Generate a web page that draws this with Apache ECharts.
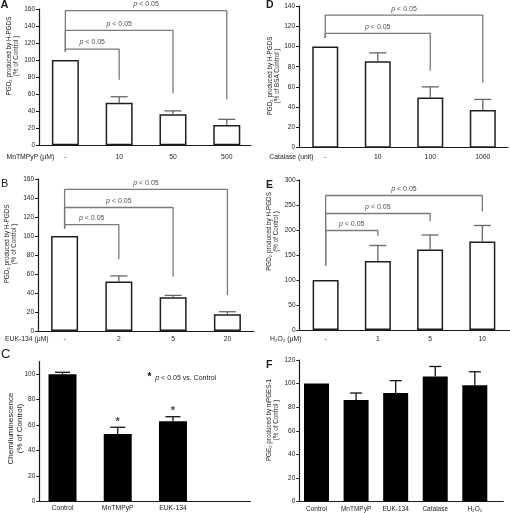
<!DOCTYPE html>
<html><head><meta charset="utf-8">
<script src="https://cdn.jsdelivr.net/npm/echarts@6/dist/echarts.min.js"></script>
<style>html,body{margin:0;padding:0;background:#fff}#c{width:510px;height:513px}</style>
</head><body><div id="c"></div>
<script>
// ---------- data ----------
const catsA = ['-', '10', '50', '500'];
const valsA = [100, 50, 36.4, 23.8];
const errsA = [0, 7, 4, 6.7];
const yTicksA = [0, 20, 40, 60, 80, 100, 120, 140, 160];
const brTargetsA = [1, 2, 3];
const brHeightsA = [113, 135, 158];
const brLegsA = [77, 61, 54];
const brBaseA = 110;

const catsB = ['-', '2', '5', '20'];
const valsB = [100, 52, 35.5, 17.6];
const errsB = [0, 6, 2, 2.7];
const yTicksB = [0, 20, 40, 60, 80, 100, 120, 140, 160];
const brTargetsB = [1, 2, 3];
const brHeightsB = [112, 130, 149];
const brLegsB = [75.5, 57, 38];
const brBaseB = 108;

const catsC = ['Control', 'MnTMPyP', 'EUK-134'];
const valsC = [100, 53, 63];
const errsC = [1.6, 5.3, 3.6];
const yTicksC = [0, 20, 40, 60, 80, 100];
const starsC = [1, 2];

const catsD = ['-', '10', '100', '1000'];
const valsD = [100, 85.5, 49.7, 37.2];
const errsD = [0, 8.2, 10.4, 10.5];
const yTicksD = [0, 20, 40, 60, 80, 100, 120, 140];
const brTargetsD = [2, 3];
const brHeightsD = [113, 131];
const brLegsD = [76, 64.5];
const brBaseD = 108.5;

const catsE = ['-', '1', '5', '10'];
const valsE = [100, 138, 161, 177];
const errsE = [0, 31, 29, 32];
const yTicksE = [0, 50, 100, 150, 200, 250, 300];
const brTargetsE = [1, 2, 3];
const brHeightsE = [199, 233, 269];
const brLegsE = [188, 217, 237];
const brBaseE = 129;

const catsF = ['Control', 'MnTMPyP', 'EUK-134', 'Catalase', 'H₂O₂'];
const valsF = [100, 86, 92, 106, 98.5];
const errsF = [0, 6, 10.5, 8.5, 11.5];
const yTicksF = [0, 20, 40, 60, 80, 100, 120];

// ---------- build ----------
const FONT = 'Arial, "Liberation Sans", Helvetica, sans-serif';
const AX = '#1a1a1a';
const grids = [], xAxes = [], yAxes = [], series = [];

function addPanel(p) {
  const i = grids.length;
  grids.push({left: p.left, top: p.top, width: p.width, height: p.height});
  xAxes.push({
    type: 'value', gridIndex: i, min: p.xMin, max: p.xMax,
    axisLine: {show: true, onZero: false, lineStyle: {color: AX, width: 1.2}},
    axisTick: {show: false}, splitLine: {show: false},
    axisLabel: {customValues: p.cats.map((c, k) => k), formatter: v => p.cats[Math.round(v)],
      fontSize: p.catFont, color: '#222', margin: p.catMargin, fontFamily: FONT}
  });
  const yMax = p.yMax !== undefined ? p.yMax : p.yTicks[p.yTicks.length - 1];
  yAxes.push({
    type: 'value', gridIndex: i, min: 0, max: yMax,
    axisLine: {show: true, onZero: false, lineStyle: {color: AX, width: 1.2}},
    axisTick: {show: true, length: 3, customValues: p.yTicks, lineStyle: {color: AX, width: 1}},
    axisLabel: {customValues: p.yTicks, fontSize: 6.5, color: '#222', margin: 4, fontFamily: FONT},
    splitLine: {show: false}
  });
  const dark = p.fill === '#000';
  series.push({
    type: 'bar', xAxisIndex: i, yAxisIndex: i, barWidth: p.barWidth, silent: true,
    data: p.vals.map((v, k) => [k, v]),
    itemStyle: {color: p.fill, borderColor: '#1e1e1e', borderWidth: dark ? 0 : 1.5}
  });
  series.push({
    type: 'custom', xAxisIndex: i, yAxisIndex: i, z: 3, silent: true,
    data: p.vals.map((v, k) => [k, v, p.errs[k]]),
    renderItem: (params, api) => {
      const e = api.value(2);
      if (!e) return;
      const x = api.value(0), v = api.value(1);
      const a = api.coord([x, v]), b = api.coord([x, v + e]);
      const hw = p.capW / 2;
      const st = {stroke: dark ? '#111' : '#666', lineWidth: 1.3};
      return {type: 'group', children: [
        {type: 'line', shape: {x1: a[0], y1: a[1], x2: b[0], y2: b[1]}, style: st},
        {type: 'line', shape: {x1: b[0] - hw, y1: b[1], x2: b[0] + hw, y2: b[1]}, style: st}
      ]};
    }
  });
  if (p.brTargets) {
    p.brTargets.forEach((j, n) => {
      const h = p.brHeights[n];
      series.push({
        type: 'line', xAxisIndex: i, yAxisIndex: i, symbol: 'none', silent: true, z: 4,
        data: [[0, p.brBase], [0, h], [j, h], [j, p.brLegs[n]]],
        lineStyle: {color: '#7a7a7a', width: 1.3}
      });
      series.push({
        type: 'scatter', xAxisIndex: i, yAxisIndex: i, symbolSize: 0, silent: true, z: 5,
        data: [[j / 2, h]],
        label: {show: true, position: 'top', distance: 3, formatter: '{i|p} < 0.05',
          fontSize: 7, color: '#222', fontFamily: FONT,
          rich: {i: {fontStyle: 'italic', fontSize: 7, color: '#222', fontFamily: FONT}}}
      });
    });
  }
  if (p.stars) {
    series.push({
      type: 'scatter', xAxisIndex: i, yAxisIndex: i, symbolSize: 0, silent: true, z: 5,
      data: p.stars.map(k => [k, p.vals[k] + p.errs[k]]),
      label: {show: true, position: 'top', distance: 0, formatter: '*', fontSize: 11,
        fontWeight: 'bold', color: '#111', fontFamily: FONT}
    });
  }
}

addPanel({left: 39, top: 9, width: 212, height: 136.3, xMin: -0.49, xMax: 3.45,
  cats: catsA, vals: valsA, errs: errsA, yTicks: yTicksA, fill: '#fff', barWidth: 27, capW: 17,
  catFont: 6.8, catMargin: 8.5,
  brTargets: brTargetsA, brHeights: brHeightsA, brLegs: brLegsA, brBase: brBaseA});
addPanel({left: 38, top: 179, width: 216, height: 152, xMin: -0.49, xMax: 3.49,
  cats: catsB, vals: valsB, errs: errsB, yTicks: yTicksB, fill: '#fff', barWidth: 27, capW: 17,
  catFont: 6.8, catMargin: 4.5,
  brTargets: brTargetsB, brHeights: brHeightsB, brLegs: brLegsB, brBase: brBaseB});
addPanel({left: 39.3, top: 361.6, width: 211, height: 139.7, xMin: -0.42, xMax: 3.40, yMax: 110,
  cats: catsC, vals: valsC, errs: errsC, yTicks: yTicksC, fill: '#000', barWidth: 28, capW: 15,
  catFont: 6.8, catMargin: 3.3, stars: starsC});
addPanel({left: 299, top: 6, width: 209, height: 141.7, xMin: -0.50, xMax: 3.48,
  cats: catsD, vals: valsD, errs: errsD, yTicks: yTicksD, fill: '#fff', barWidth: 26, capW: 17,
  catFont: 6.8, catMargin: 6,
  brTargets: brTargetsD, brHeights: brHeightsD, brLegs: brLegsD, brBase: brBaseD});
addPanel({left: 299.5, top: 180, width: 210, height: 150, xMin: -0.50, xMax: 3.52,
  cats: catsE, vals: valsE, errs: errsE, yTicks: yTicksE, fill: '#fff', barWidth: 26, capW: 17,
  catFont: 6.8, catMargin: 5.5,
  brTargets: brTargetsE, brHeights: brHeightsE, brLegs: brLegsE, brBase: brBaseE});
addPanel({left: 299.3, top: 360, width: 204, height: 142.3, xMin: -0.435, xMax: 4.72,
  cats: catsF, vals: valsF, errs: errsF, yTicks: yTicksF, fill: '#000', barWidth: 25, capW: 12,
  catFont: 6.5, catMargin: 4.5});

function txt(x, y, text, o) {
  o = o || {};
  return {type: 'text', x: x, y: y, rotation: o.rot || 0, silent: true,
    style: Object.assign({text: text, fill: '#1a1a1a', fontFamily: FONT, fontSize: 7,
      align: 'left', verticalAlign: 'middle'}, o.style || {})};
}
const titleStyle = {align: 'center', verticalAlign: 'middle', fontSize: 6.3, lineHeight: 6.6};
const graphic = [
  txt(0.5, -1, 'A', {style: {fontSize: 11, fontWeight: 'bold', verticalAlign: 'top'}}),
  txt(1, 178.5, 'B', {style: {fontSize: 11, verticalAlign: 'top'}}),
  txt(1, 347.5, 'C', {style: {fontSize: 13, verticalAlign: 'top'}}),
  txt(266, -0.5, 'D', {style: {fontSize: 10.5, fontWeight: 'bold', verticalAlign: 'top'}}),
  txt(266, 179.5, 'E', {style: {fontSize: 10.5, fontWeight: 'bold', verticalAlign: 'top'}}),
  txt(266, 359.5, 'F', {style: {fontSize: 10.5, fontWeight: 'bold', verticalAlign: 'top'}}),
  txt(12.5, 56, 'PGD₂ produced by H-PGDS\n(% of Control )', {rot: Math.PI / 2, style: titleStyle}),
  txt(11, 244, 'PGD₂ produced by H-PGDS\n(% of Control )', {rot: Math.PI / 2, style: titleStyle}),
  txt(15, 428.5, 'Chemiluminescence\n(% of Control)', {rot: Math.PI / 2,
    style: {align: 'center', verticalAlign: 'middle', fontSize: 8, lineHeight: 8.6}}),
  txt(274, 76, 'PGD₂ produced by H-PGDS\n(% of BSA Control )', {rot: Math.PI / 2, style: titleStyle}),
  txt(273, 231.5, 'PGD₂ produced by H-PGDS\n(% of Control )', {rot: Math.PI / 2, style: titleStyle}),
  txt(273, 420, 'PGE₂ produced by mPGES-1\n(% of Control )', {rot: Math.PI / 2, style: titleStyle}),
  txt(6.5, 157.3, 'MnTMPyP (μM)', {style: {fontSize: 6.8}}),
  txt(5, 339, 'EUK-134 (μM)', {style: {fontSize: 6.8}}),
  txt(269.3, 157.3, 'Catalase (unit)', {style: {fontSize: 6.8}}),
  txt(270, 339, 'H₂O₂ (μM)', {style: {fontSize: 6.8}}),
  txt(147.5, 377.7, '{s|*}  {i|p} < 0.05 vs. Control', {style: {fontSize: 7,
    rich: {s: {fontSize: 10, fontWeight: 'bold', fontFamily: FONT, fill: '#111'},
           i: {fontStyle: 'italic', fontSize: 7, fontFamily: FONT}}}})
];

const chart = echarts.init(document.getElementById('c'), null, {renderer: 'canvas'});
chart.setOption({
  animation: false, backgroundColor: '#fff',
  grid: grids, xAxis: xAxes, yAxis: yAxes, series: series, graphic: graphic
});
</script>
</body></html>
